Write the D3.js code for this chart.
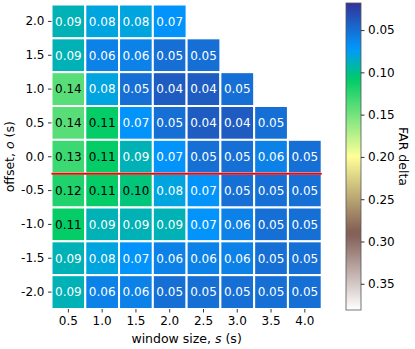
<!DOCTYPE html>
<html>
<head>
<meta charset="utf-8">
<script src="https://cdn.jsdelivr.net/npm/d3@7"></script>
<style>
  body { margin: 0; background: #fff; }
  svg { display: block; font-family: "DejaVu Sans", sans-serif; }
</style>
</head>
<body>
<svg id="chart" width="415" height="349"></svg>
<script>
// ---- data
var windows = ["0.5", "1.0", "1.5", "2.0", "2.5", "3.0", "3.5", "4.0"];
var offsets = ["2.0", "1.5", "1.0", "0.5", "0.0", "-0.5", "-1.0", "-1.5", "-2.0"];
var row_2_0  = [0.09, 0.08, 0.08, 0.07, null, null, null, null];
var row_1_5  = [0.09, 0.06, 0.06, 0.05, 0.05, null, null, null];
var row_1_0  = [0.14, 0.08, 0.05, 0.04, 0.04, 0.05, null, null];
var row_0_5  = [0.14, 0.11, 0.07, 0.05, 0.04, 0.04, 0.05, null];
var row_0_0  = [0.13, 0.11, 0.09, 0.07, 0.05, 0.05, 0.06, 0.05];
var row_m0_5 = [0.12, 0.11, 0.104, 0.08, 0.07, 0.05, 0.05, 0.05];
var row_m1_0 = [0.11, 0.09, 0.09, 0.09, 0.07, 0.06, 0.05, 0.05];
var row_m1_5 = [0.09, 0.08, 0.07, 0.06, 0.06, 0.06, 0.05, 0.05];
var row_m2_0 = [0.09, 0.06, 0.06, 0.05, 0.05, 0.05, 0.05, 0.05];
var rows = [row_2_0, row_1_5, row_1_0, row_0_5, row_0_0, row_m0_5, row_m1_0, row_m1_5, row_m2_0];
var cbTicks = [0.05, 0.10, 0.15, 0.20, 0.25, 0.30, 0.35];
var vmin = 0.018, vmax = 0.381;
var markOffset = -0.25;

// ---- terrain colormap (matplotlib)
var terrain = [
  [0.00, [0.2, 0.2, 0.6]],
  [0.15, [0.0, 0.6, 1.0]],
  [0.25, [0.0, 0.8, 0.4]],
  [0.50, [1.0, 1.0, 0.6]],
  [0.75, [0.5, 0.36, 0.33]],
  [1.00, [1.0, 1.0, 1.0]]
];
function terrainRGB(t){
  t = Math.max(0, Math.min(1, t));
  for(var i=0;i<terrain.length-1;i++){
    var a = terrain[i], b = terrain[i+1];
    if(t <= b[0]){
      var f = (t-a[0])/(b[0]-a[0]);
      return [0,1,2].map(function(k){ return a[1][k] + f*(b[1][k]-a[1][k]); });
    }
  }
  return terrain[terrain.length-1][1];
}
function toCss(c){ return d3.rgb(c[0]*255, c[1]*255, c[2]*255).formatHex(); }
var norm = d3.scaleLinear().domain([vmin, vmax]).range([0, 1]);
function colorOf(v){ return toCss(terrainRGB(norm(v))); }
function lum(c){
  var l = c.map(function(x){ return x <= 0.03928 ? x/12.92 : Math.pow((x+0.055)/1.055, 2.4); });
  return 0.2126*l[0] + 0.7152*l[1] + 0.0722*l[2];
}

// ---- layout
var fs = 12;
var svg = d3.select("#chart");
var gLeft = 51.5, gRight = 321.7, gTop = 4.5, gBottom = 309;
var x = d3.scaleBand().domain(windows).range([gLeft, gRight]);
var y = d3.scaleBand().domain(offsets).range([gTop, gBottom]);
var yLin = d3.scaleLinear().domain([2.25, -2.25]).range([gTop, gBottom]);

var cells = [];
rows.forEach(function(r, i){
  r.forEach(function(v, j){
    if(v != null) cells.push({o: offsets[i], w: windows[j], v: v});
  });
});

var g = svg.append("g");
g.selectAll("rect.cell")
  .data(cells)
  .enter().append("rect")
  .attr("class", "cell")
  .attr("x", function(d){ return x(d.w); })
  .attr("y", function(d){ return y(d.o); })
  .attr("width", x.bandwidth())
  .attr("height", y.bandwidth())
  .attr("fill", function(d){ return colorOf(d.v); })
  .attr("stroke", "#fff")
  .attr("stroke-width", 2);

g.selectAll("text.val")
  .data(cells)
  .enter().append("text")
  .attr("class", "val")
  .attr("x", function(d){ return x(d.w) + x.bandwidth()/2; })
  .attr("y", function(d){ return y(d.o) + y.bandwidth()/2; })
  .attr("dy", "0.36em")
  .attr("text-anchor", "middle")
  .attr("font-size", fs)
  .attr("fill", function(d){ return lum(terrainRGB(norm(d.v))) > 0.408 ? "#000" : "#fff"; })
  .text(function(d){ return d3.format(".2f")(d.v); });

// red line
svg.append("line")
  .attr("x1", gLeft).attr("x2", gRight)
  .attr("y1", yLin(markOffset)).attr("y2", yLin(markOffset))
  .attr("stroke", "#ff0000")
  .attr("stroke-width", 2);

// axes
var xAxis = svg.append("g")
  .attr("transform", "translate(0," + gBottom + ")")
  .call(d3.axisBottom(x).tickSize(3.5).tickPadding(3.5));
var yAxis = svg.append("g")
  .attr("transform", "translate(" + gLeft + ",0)")
  .call(d3.axisLeft(y).tickSize(3.5).tickPadding(3.5));
[xAxis, yAxis].forEach(function(a){
  a.select(".domain").remove();
  a.selectAll("text").attr("font-size", fs).attr("fill", "#000").attr("font-family", "DejaVu Sans");
  a.selectAll("line").attr("stroke", "#000").attr("stroke-width", 0.8);
});

svg.append("text")
  .attr("x", (gLeft + gRight)/2).attr("y", 343)
  .attr("text-anchor", "middle").attr("font-size", fs + 0.5)
  .html('window size, <tspan font-style="italic">s</tspan> (s)');
svg.append("text")
  .attr("transform", "translate(14," + (gTop + gBottom)/2 + ") rotate(-90)")
  .attr("text-anchor", "middle").attr("font-size", fs + 0.5)
  .html('offset, <tspan font-style="italic">o</tspan> (s)');

// colorbar
var cbX = 346, cbW = 15, cbTop = 3, cbBot = 310;
var cb = d3.scaleLinear().domain([vmin, vmax]).range([cbTop, cbBot]);
var grad = svg.append("defs").append("linearGradient")
  .attr("id", "cbgrad").attr("x1", 0).attr("x2", 0).attr("y1", 0).attr("y2", 1);
d3.range(0, 1.0001, 0.02).forEach(function(t){
  grad.append("stop").attr("offset", t).attr("stop-color", toCss(terrainRGB(t)));
});
svg.append("rect")
  .attr("x", cbX).attr("y", cbTop).attr("width", cbW).attr("height", cbBot - cbTop)
  .attr("fill", "url(#cbgrad)")
  .attr("stroke", "#555").attr("stroke-width", 0.8);
var cbAxis = svg.append("g")
  .attr("transform", "translate(" + (cbX + cbW) + ",0)")
  .call(d3.axisRight(cb).tickValues(cbTicks).tickFormat(d3.format(".2f")).tickSize(3.5).tickPadding(3.5));
cbAxis.select(".domain").remove();
cbAxis.selectAll("text").attr("font-size", fs).attr("fill", "#000").attr("font-family", "DejaVu Sans");
cbAxis.selectAll("line").attr("stroke", "#000").attr("stroke-width", 0.8);

svg.append("text")
  .attr("transform", "translate(399," + (cbTop + cbBot)/2 + ") rotate(90)")
  .attr("text-anchor", "middle").attr("font-size", fs + 0.5)
  .text("FAR delta");
</script>
</body>
</html>
